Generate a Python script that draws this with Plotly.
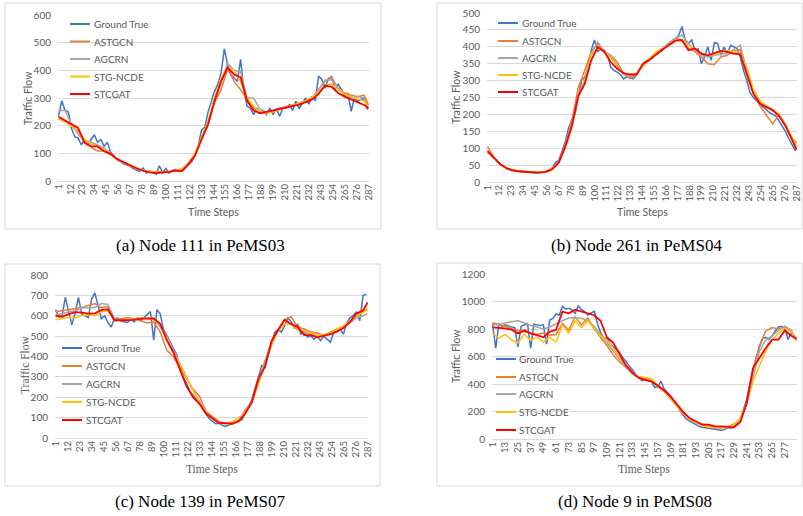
import plotly.graph_objects as go

W, H = 803, 516
NAMES = ["Ground True", "ASTGCN", "AGCRN", "STG-NCDE", "STCGAT"]
COLORS = ["#4472C4", "#ED7D31", "#A5A5A5", "#FFC000", "#FF0000"]

# ---- categories (time steps) ----
abc_gt_steps = list(range(1, 288, 3))
abc_pred_steps = list(range(1, 288, 6)) + [287]
d_gt_steps = list(range(1, 289, 3))
d_pred_steps = list(range(1, 289, 6)) + [288]
abc_tick_labels = list(range(1, 288, 11))
d_tick_labels = list(range(1, 289, 12))

# ---- (a) Node 111 in PeMS03 ----
a_ground_true = [
    235, 290, 255, 250, 190, 160, 155, 131, 150, 131, 150, 167,
    140, 150, 125, 140, 105, 90, 77, 71, 62, 58, 53, 45,
    40, 35, 47, 29, 36, 33, 24, 55, 30, 45, 28, 38,
    42, 35, 38, 47, 60, 70, 95, 131, 185, 195, 250, 290,
    325, 350, 390, 478, 420, 385, 372, 360, 440, 330, 270, 264,
    240, 264, 246, 255, 240, 264, 240, 262, 234, 264, 262, 276,
    255, 288, 262, 280, 300, 278, 306, 290, 380, 366, 335, 370,
    378, 330, 350, 330, 306, 318, 252, 300, 288, 294, 300, 258]
a_astgcn = [
    225, 215, 200, 180, 150, 122, 108, 108, 95, 78, 65, 55,
    46, 38, 33, 33, 33, 33, 36, 42, 66, 100, 155, 215,
    285, 330, 405, 360, 330, 295, 265, 245, 248, 250, 262, 268,
    275, 282, 288, 300, 330, 360, 375, 335, 318, 310, 305, 310,
    275]
a_agcrn = [
    255, 255, 205, 170, 145, 140, 130, 120, 100, 80, 66, 55,
    45, 38, 32, 30, 30, 32, 36, 40, 60, 95, 160, 200,
    300, 365, 425, 400, 395, 300, 300, 260, 248, 255, 265, 265,
    272, 280, 290, 300, 330, 365, 365, 335, 312, 300, 305, 300,
    262]
a_stgncde = [
    228, 215, 198, 182, 150, 135, 125, 112, 98, 80, 66, 55,
    46, 38, 34, 32, 32, 34, 38, 44, 65, 100, 155, 215,
    300, 370, 410, 400, 360, 300, 270, 250, 245, 250, 258, 265,
    272, 280, 290, 302, 320, 345, 350, 330, 315, 305, 295, 290,
    265]
a_stcgat = [
    232, 218, 205, 192, 138, 125, 125, 108, 98, 80, 68, 56,
    46, 37, 31, 29, 30, 33, 38, 36, 62, 92, 150, 205,
    290, 360, 410, 385, 375, 290, 255, 245, 250, 255, 260, 265,
    272, 276, 285, 295, 315, 345, 340, 318, 305, 294, 285, 275,
    262]

# ---- (b) Node 261 in PeMS04 ----
b_ground_true = [
    88, 80, 70, 62, 52, 45, 40, 36, 34, 32, 31, 30,
    29, 28, 28, 27, 28, 29, 30, 33, 42, 58, 64, 89,
    119, 159, 185, 200, 250, 300, 310, 340, 390, 420, 385, 395,
    390, 378, 340, 330, 325, 318, 305, 312, 310, 305, 318, 335,
    350, 358, 362, 368, 378, 385, 390, 400, 410, 418, 424, 434,
    460, 419, 410, 420, 390, 394, 350, 372, 400, 360, 412, 410,
    375, 399, 380, 404, 400, 395, 370, 330, 300, 265, 250, 240,
    232, 222, 215, 205, 200, 195, 180, 165, 148, 128, 108, 92]
b_astgcn = [
    105, 72, 52, 40, 34, 31, 30, 28, 28, 31, 40, 60,
    110, 180, 280, 330, 385, 410, 385, 375, 355, 320, 306, 320,
    345, 360, 382, 395, 410, 425, 420, 395, 385, 370, 350, 348,
    370, 375, 388, 392, 320, 265, 225, 200, 172, 200, 165, 130,
    115]
b_agcrn = [
    88, 70, 50, 40, 34, 31, 29, 28, 28, 30, 40, 60,
    108, 175, 260, 300, 380, 415, 385, 375, 345, 318, 312, 318,
    348, 362, 378, 395, 412, 425, 435, 410, 390, 375, 370, 375,
    378, 380, 392, 405, 330, 270, 240, 225, 215, 195, 165, 125,
    98]
b_stgncde = [
    90, 72, 52, 40, 35, 32, 30, 29, 29, 31, 40, 58,
    100, 160, 250, 300, 375, 395, 385, 368, 340, 320, 318, 322,
    345, 365, 385, 395, 405, 420, 420, 405, 392, 380, 375, 378,
    385, 388, 385, 380, 340, 275, 240, 225, 215, 200, 170, 130,
    105]
b_stcgat = [
    92, 72, 52, 40, 34, 31, 30, 28, 28, 30, 38, 58,
    105, 165, 255, 290, 360, 400, 385, 355, 335, 322, 318, 318,
    350, 362, 378, 392, 405, 418, 420, 390, 395, 380, 375, 382,
    388, 385, 380, 378, 320, 262, 232, 222, 212, 195, 165, 125,
    95]

# ---- (c) Node 139 in PeMS07 ----
c_ground_true = [
    630, 595, 600, 690, 620, 555, 615, 690, 608, 600, 591, 680,
    712, 650, 585, 600, 567, 545, 585, 590, 575, 570, 567, 583,
    570, 590, 575, 591, 605, 620, 480, 630, 610, 530, 505, 470,
    440, 410, 340, 300, 270, 230, 207, 190, 168, 145, 119, 94,
    82, 70, 72, 62, 57, 65, 70, 80, 85, 90, 119, 152,
    190, 250, 300, 355, 345, 410, 470, 518, 534, 520, 550, 590,
    570, 540, 560, 510, 520, 495, 500, 485, 500, 478, 500, 485,
    470, 515, 525, 534, 510, 565, 590, 600, 620, 575, 700, 705]
c_astgcn = [
    620, 625, 630, 635, 640, 650, 660, 640, 645, 580, 585, 590,
    585, 575, 565, 570, 520, 430, 400, 345, 290, 240, 205, 130,
    105, 80, 72, 70, 80, 140, 175, 270, 360, 455, 530, 580,
    595, 545, 535, 520, 515, 505, 520, 535, 545, 570, 600, 630,
    625]
c_agcrn = [
    605, 610, 620, 625, 638, 640, 640, 660, 655, 585, 582, 580,
    578, 585, 590, 590, 545, 500, 430, 365, 295, 235, 180, 125,
    100, 75, 70, 72, 85, 130, 180, 290, 380, 470, 530, 560,
    560, 530, 520, 510, 500, 505, 515, 530, 545, 565, 590, 600,
    612]
c_stgncde = [
    580, 585, 592, 590, 600, 605, 600, 620, 625, 575, 580, 582,
    580, 590, 588, 580, 560, 490, 420, 360, 300, 235, 170, 120,
    95, 72, 70, 80, 100, 120, 175, 275, 360, 460, 525, 560,
    560, 535, 525, 515, 505, 505, 515, 535, 550, 575, 600, 615,
    635]
c_stcgat = [
    600, 595, 608, 618, 615, 610, 612, 628, 632, 578, 578, 578,
    580, 586, 586, 586, 560, 480, 420, 335, 255, 200, 168, 119,
    98, 73, 73, 70, 84, 120, 176, 290, 350, 475, 530, 580,
    560, 545, 505, 505, 494, 502, 510, 522, 540, 570, 612, 625,
    665]

# ---- (d) Node 9 in PeMS08 ----
d_ground_true = [
    840, 660, 840, 820, 830, 820, 815, 810, 670, 820, 830, 840,
    660, 835, 830, 825, 830, 690, 865, 877, 910, 900, 965, 945,
    950, 940, 914, 968, 940, 926, 902, 915, 930, 840, 775, 730,
    735, 690, 670, 650, 630, 590, 565, 530, 505, 470, 445, 425,
    430, 425, 420, 375, 380, 420, 365, 340, 315, 280, 255, 205,
    177, 145, 130, 116, 104, 92, 86, 80, 78, 75, 72, 68,
    63, 68, 80, 80, 85, 110, 150, 215, 290, 400, 510, 590,
    670, 730, 740, 725, 750, 785, 815, 820, 805, 725, 770, 735]
d_astgcn = [
    845, 835, 820, 800, 790, 780, 775, 760, 770, 755, 760, 840,
    790, 890, 830, 880, 800, 740, 680, 610, 560, 520, 475, 445,
    440, 425, 380, 345, 290, 240, 190, 145, 120, 100, 85, 80,
    80, 90, 110, 140, 260, 500, 680, 785, 810, 800, 820, 790,
    720]
d_agcrn = [
    830, 830, 845, 855, 860, 845, 825, 815, 800, 815, 840, 860,
    880, 882, 878, 860, 820, 760, 700, 640, 580, 520, 470, 445,
    430, 420, 395, 350, 295, 245, 195, 150, 125, 108, 95, 85,
    80, 80, 90, 140, 260, 440, 640, 720, 750, 790, 820, 790,
    720]
d_stgncde = [
    770, 735, 760, 720, 700, 760, 720, 740, 705, 740, 705, 830,
    770, 860, 810, 860, 800, 750, 720, 660, 600, 530, 480, 455,
    450, 440, 390, 350, 295, 240, 185, 145, 120, 100, 88, 82,
    80, 85, 105, 150, 260, 420, 530, 640, 720, 770, 805, 780,
    710]
d_stcgat = [
    812, 810, 805, 795, 768, 790, 768, 755, 740, 780, 795, 926,
    914, 940, 926, 914, 900, 860, 740, 700, 615, 535, 485, 445,
    430, 419, 390, 354, 310, 250, 196, 153, 128, 104, 104, 92,
    92, 90, 85, 124, 260, 516, 594, 662, 722, 722, 790, 751,
    730]

SANS = "Lato, 'Liberation Sans', sans-serif"
SERIF = "'Liberation Serif', 'Times New Roman', serif"
GRAY_TXT = "#595959"
GRID = "#D9D9D9"


def px(x):
    return x / W


def py(y):
    return 1 - y / H


panels = [
    dict(gt=a_ground_true, preds=[a_astgcn, a_agcrn, a_stgncde, a_stcgat],
         gx=abc_gt_steps, pxs=abc_pred_steps, ticks=abc_tick_labels, n=287,
         plot=(58, 369, 15, 181), yr=600, dt=100,
         frame=(5, 381, 3, 229), legend=(70, 92, [24, 41.5, 59, 76.5, 94]),
         ytitle=(28, 98, SANS, 10.5), xtitle=(213, 212, SANS, 10.5),
         caption=("(a) Node 111 in PeMS03", 200, 246)),
    dict(gt=b_ground_true, preds=[b_astgcn, b_agcrn, b_stgncde, b_stcgat],
         gx=abc_gt_steps, pxs=abc_pred_steps, ticks=abc_tick_labels, n=287,
         plot=(487, 797, 13, 182), yr=500, dt=50,
         frame=(437, 802, 3, 229), legend=(498, 520, [23, 41, 58, 75, 92]),
         ytitle=(456, 97, SANS, 10.5), xtitle=(642, 212, SANS, 10.5),
         caption=("(b) Node 261 in PeMS04", 636, 246)),
    dict(gt=c_ground_true, preds=[c_astgcn, c_agcrn, c_stgncde, c_stcgat],
         gx=abc_gt_steps, pxs=abc_pred_steps, ticks=abc_tick_labels, n=287,
         plot=(55, 368, 275, 438), yr=800, dt=100,
         frame=(5, 380, 264, 486), legend=(62, 84, [348, 366, 384, 402, 420]),
         ytitle=(25, 365, SERIF, 11.5), xtitle=(212, 469, SERIF, 11.5),
         caption=("(c) Node 139 in PeMS07", 200, 501)),
    dict(gt=d_ground_true, preds=[d_astgcn, d_agcrn, d_stgncde, d_stcgat],
         gx=d_gt_steps, pxs=d_pred_steps, ticks=d_tick_labels, n=288,
         plot=(492, 797, 274, 439), yr=1200, dt=200,
         frame=(437, 802, 263, 486), legend=(496, 517, [359, 377, 394, 412, 430]),
         ytitle=(456, 356, SANS, 10.5), xtitle=(644, 469, SERIF, 11.5),
         caption=("(d) Node 9 in PeMS08", 635, 501)),
]

fig = go.Figure()
shapes = []
annotations = []
layout = {}

for k, p in enumerate(panels):
    sfx = "" if k == 0 else str(k + 1)
    xa, ya = "x" + sfx, "y" + sfx
    series = [p["gt"]] + p["preds"]
    xs = [p["gx"]] + [p["pxs"]] * 4
    for j in range(5):
        fig.add_trace(go.Scatter(
            x=xs[j], y=series[j], mode="lines", name=NAMES[j],
            line=dict(color=COLORS[j], width=1.8 if j == 4 else 1.5),
            xaxis=xa, yaxis=ya, showlegend=False, hoverinfo="skip"))
    x0, x1, y0, y1 = p["plot"]
    layout["xaxis" + sfx] = dict(
        domain=[px(x0), px(x1)], anchor=ya, range=[0.5, p["n"] + 0.5],
        tickmode="array", tickvals=p["ticks"], ticktext=[str(t) for t in p["ticks"]],
        tickangle=-90, tickfont=dict(family=SANS, size=9.5, color=GRAY_TXT),
        showgrid=False, zeroline=False, showline=False, ticks="", automargin=False)
    layout["yaxis" + sfx] = dict(
        domain=[py(y1), py(y0)], anchor=xa, range=[0, p["yr"]], dtick=p["dt"],
        tickfont=dict(family=SANS, size=10, color=GRAY_TXT),
        showgrid=True, gridcolor=GRID, gridwidth=1,
        zeroline=True, zerolinecolor=GRID, zerolinewidth=1,
        showline=False, ticks="", ticklabelstandoff=6, automargin=False)
    fx0, fx1, fy0, fy1 = p["frame"]
    shapes.append(dict(type="rect", xref="paper", yref="paper",
                       x0=px(fx0), x1=px(fx1), y0=py(fy1), y1=py(fy0),
                       line=dict(color=GRID, width=1), fillcolor="rgba(0,0,0,0)"))
    lx, tx, rows = p["legend"]
    for j in range(5):
        shapes.append(dict(type="line", xref="paper", yref="paper",
                           x0=px(lx), x1=px(lx + 20), y0=py(rows[j]), y1=py(rows[j]),
                           line=dict(color=COLORS[j], width=2)))
        annotations.append(dict(text=NAMES[j], xref="paper", yref="paper",
                                x=px(tx), y=py(rows[j]), xanchor="left", yanchor="middle",
                                showarrow=False,
                                font=dict(family=SANS, size=10, color=GRAY_TXT)))
    ytx, yty, yfam, yfs = p["ytitle"]
    annotations.append(dict(text="Traffic Flow", xref="paper", yref="paper",
                            x=px(ytx), y=py(yty), xanchor="center", yanchor="middle",
                            textangle=-90, showarrow=False,
                            font=dict(family=yfam, size=yfs, color=GRAY_TXT)))
    xtx, xty, xfam, xfs = p["xtitle"]
    annotations.append(dict(text="Time Steps", xref="paper", yref="paper",
                            x=px(xtx), y=py(xty), xanchor="center", yanchor="middle",
                            showarrow=False,
                            font=dict(family=xfam, size=xfs, color=GRAY_TXT)))
    cap, cx, cy = p["caption"]
    annotations.append(dict(text=cap, xref="paper", yref="paper",
                            x=px(cx), y=py(cy), xanchor="center", yanchor="middle",
                            showarrow=False,
                            font=dict(family=SERIF, size=17, color="#000000")))

fig.update_layout(
    width=W, height=H, margin=dict(l=0, r=0, t=0, b=0),
    paper_bgcolor="white", plot_bgcolor="white",
    showlegend=False, shapes=shapes, annotations=annotations, **layout)

fig.write_html(
    "out.html",
    config={"displayModeBar": False, "staticPlot": True},
    post_script="document.body.style.margin='0px';document.body.style.padding='0px';"
                "document.documentElement.style.overflow='hidden';")
